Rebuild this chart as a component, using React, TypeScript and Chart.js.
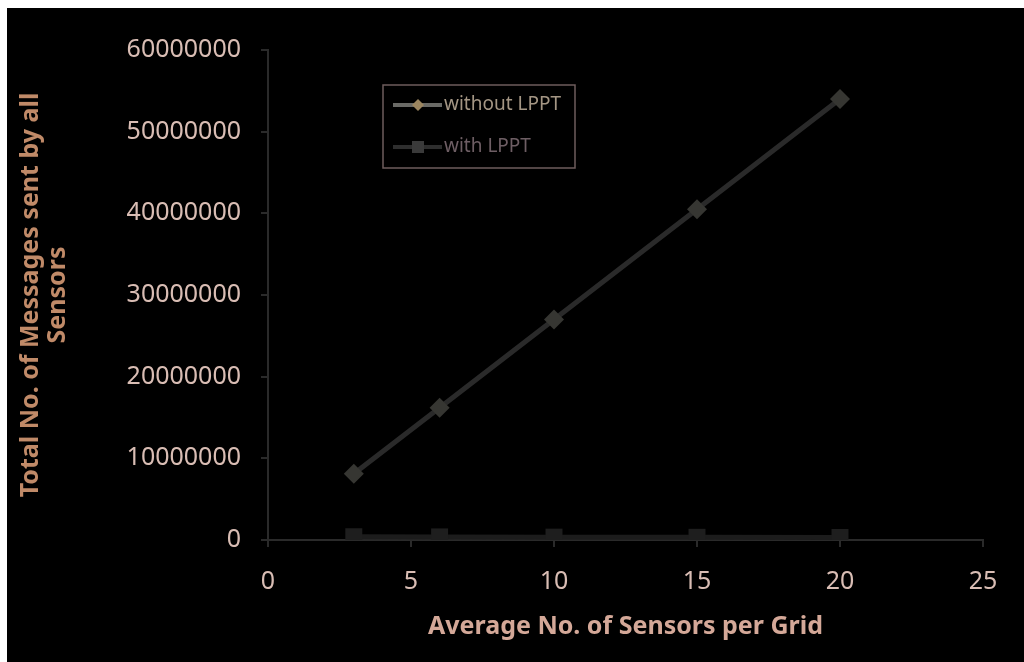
import React, { useEffect, useRef } from "react";
import { Chart, registerables } from "chart.js";

Chart.register(...registerables);

const sensorsPerGrid = [3, 6, 10, 15, 20];
const withoutLPPT = [8100000, 16200000, 27000000, 40500000, 54000000];
const withLPPT = [400000, 380000, 350000, 330000, 310000];
const xTicks = [0, 5, 10, 15, 20, 25];
const yTicks = [0, 10000000, 20000000, 30000000, 40000000, 50000000, 60000000];
const seriesNames = ["without LPPT", "with LPPT"];
const xTitle = "Average No. of Sensors per Grid";
const yTitle = ["Total No. of Messages sent by all", "Sensors"];

const FONT = "'Noto Sans', 'Open Sans', sans-serif";

const legendPlugin = {
  id: "customLegend",
  afterDraw(chart: any) {
    const { ctx, chartArea } = chart;
    const bx = chartArea.left + 115;
    const by = chartArea.top + 35;
    const bw = 192;
    const bh = 83;
    ctx.save();
    ctx.strokeStyle = "#6e5c5c";
    ctx.lineWidth = 1.5;
    ctx.strokeRect(bx, by, bw, bh);
    const rows = [
      { y: by + 20, line: "#6a6a66", marker: "#9c8660", text: "#a49684", style: "diamond" },
      { y: by + 62, line: "#2e2e2e", marker: "#3a3a3a", text: "#6e5e64", style: "square" },
    ];
    rows.forEach((r, i) => {
      ctx.strokeStyle = r.line;
      ctx.lineWidth = 4;
      ctx.beginPath();
      ctx.moveTo(bx + 10, r.y);
      ctx.lineTo(bx + 59, r.y);
      ctx.stroke();
      ctx.fillStyle = r.marker;
      const cx = bx + 35;
      if (r.style === "diamond") {
        ctx.beginPath();
        ctx.moveTo(cx, r.y - 6);
        ctx.lineTo(cx + 6, r.y);
        ctx.lineTo(cx, r.y + 6);
        ctx.lineTo(cx - 6, r.y);
        ctx.closePath();
        ctx.fill();
      } else {
        ctx.fillRect(cx - 6, r.y - 6, 12, 12);
      }
      ctx.fillStyle = r.text;
      ctx.font = `19px ${FONT}`;
      ctx.textBaseline = "middle";
      ctx.textAlign = "left";
      ctx.fillText(seriesNames[i], bx + 61, r.y);
    });
    ctx.restore();
  },
};

export default function App() {
  const ref = useRef<HTMLCanvasElement | null>(null);
  useEffect(() => {
    if (!ref.current) return;
    const chart = new Chart(ref.current, {
      type: "line",
      data: {
        datasets: [
          {
            label: seriesNames[0],
            data: sensorsPerGrid.map((x, i) => ({ x, y: withoutLPPT[i] })),
            borderColor: "#2a2a2a",
            backgroundColor: "#363632",
            borderWidth: 5,
            pointStyle: "rectRot",
            pointRadius: 10,
            pointBorderWidth: 0,
            pointBackgroundColor: "#363632",
          },
          {
            label: seriesNames[1],
            data: sensorsPerGrid.map((x, i) => ({ x, y: withLPPT[i] })),
            borderColor: "#1c1c1c",
            backgroundColor: "#1e1e1e",
            borderWidth: 5,
            pointStyle: "rect",
            pointRadius: 12,
            pointBorderWidth: 0,
            pointBackgroundColor: "#1e1e1e",
          },
        ],
      },
      options: {
        animation: false,
        responsive: false,
        maintainAspectRatio: false,
        layout: { padding: { left: 0, right: 41, top: 42, bottom: 0 } },
        plugins: { legend: { display: false }, tooltip: { enabled: false } },
        scales: {
          x: {
            type: "linear",
            min: 0,
            max: 25,
            afterFit: (s: any) => { s.height = 122; },
            afterBuildTicks: (s: any) => { s.ticks = xTicks.map((v) => ({ value: v })); },
            grid: { drawOnChartArea: false, drawTicks: true, tickLength: 7, color: "#2a2a2a", lineWidth: 2 },
            border: { color: "#2a2a2a", width: 2 },
            ticks: { color: "#d9bdb4", font: { family: FONT, size: 25 }, padding: 20, maxRotation: 0 },
            title: {
              display: true,
              text: xTitle,
              color: "#d4a898",
              font: { family: FONT, size: 25, weight: "bold" },
              padding: { top: 0, bottom: 20 },
            },
          },
          y: {
            type: "linear",
            min: 0,
            max: 60000000,
            afterFit: (s: any) => { s.width = 261; },
            afterBuildTicks: (s: any) => { s.ticks = yTicks.map((v) => ({ value: v })); },
            grid: { drawOnChartArea: false, drawTicks: true, tickLength: 7, color: "#2a2a2a", lineWidth: 2 },
            border: { color: "#2a2a2a", width: 2 },
            ticks: {
              color: "#d9bdb4",
              font: { family: FONT, size: 25 },
              padding: 20,
              callback: (v: any) => String(v),
            },
            title: {
              display: true,
              text: yTitle,
              color: "#c08a68",
              font: { family: FONT, size: 25, weight: "bold", lineHeight: 1.1 },
              padding: { top: 10, bottom: 0 },
            },
          },
        },
      },
      plugins: [legendPlugin],
    } as any);
    return () => chart.destroy();
  }, []);
  return (
    <div style={{ position: "absolute", left: 7, top: 8, width: 1017, height: 654, background: "#000" }}>
      <canvas ref={ref} width={1017} height={654} style={{ display: "block" }} />
    </div>
  );
}
